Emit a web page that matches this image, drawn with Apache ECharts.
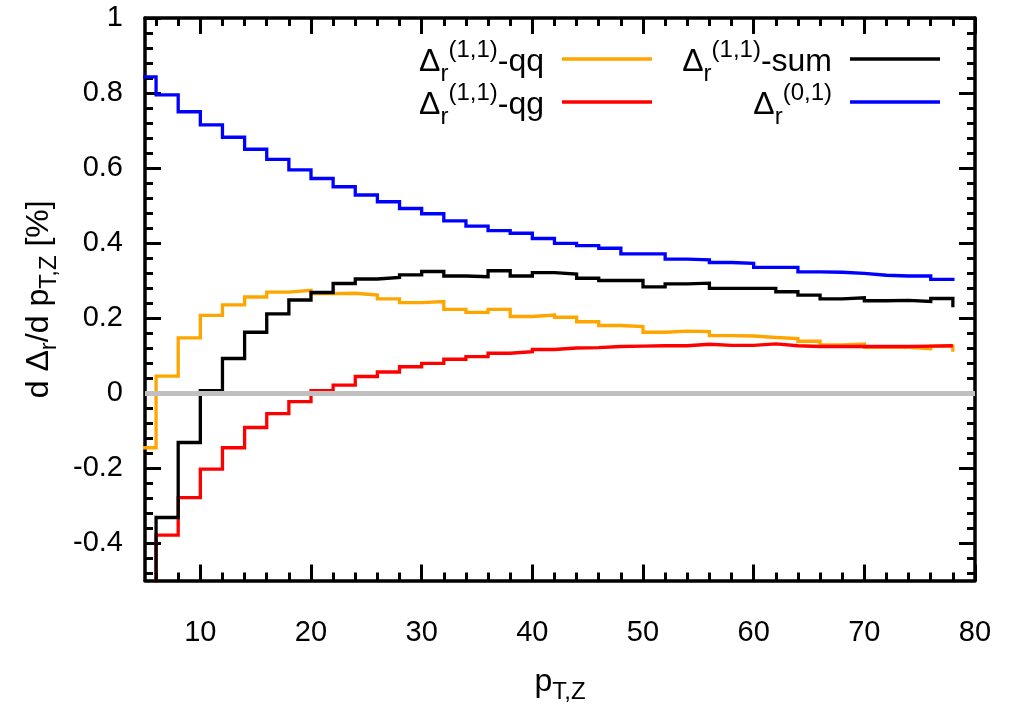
<!DOCTYPE html>
<html>
<head>
<meta charset="utf-8">
<script src="https://cdn.jsdelivr.net/npm/echarts@6/dist/echarts.min.js"></script>
<style>
  html, body { margin: 0; padding: 0; background: #fff; }
  #chart { width: 1017px; height: 721px; }
</style>
</head>
<body>
<div id="chart"></div>
<script>
// Bin edges in p_T,Z (GeV); each value below fills one bin [edge_i, edge_i+1)
const binEdges = [4, 6, 8, 10, 12, 14, 16, 18, 20, 22, 24, 26, 28, 30, 32, 34, 36, 38, 40,
  42, 44, 46, 48, 50, 52, 54, 56, 58, 60, 62, 64, 66, 68, 70, 72, 74, 76, 78];

// Δr(1,1) quark-antiquark channel
const qqValues = [-0.146, 0.045, 0.147, 0.207, 0.235, 0.256, 0.269, 0.274, 0.265, 0.266,
  0.261, 0.251, 0.241, 0.244, 0.223, 0.215, 0.223, 0.204, 0.208, 0.202, 0.190, 0.180,
  0.177, 0.162, 0.165, 0.164, 0.153, 0.152, 0.148, 0.145, 0.138, 0.128, 0.131, 0.122,
  0.122, 0.118, 0.125];
// Δr(1,1) quark-gluon channel
const qgValues = [-0.580, -0.379, -0.279, -0.203, -0.146, -0.092, -0.055, -0.023, 0.006,
  0.021, 0.044, 0.056, 0.070, 0.079, 0.090, 0.097, 0.106, 0.110, 0.116, 0.120, 0.121,
  0.124, 0.125, 0.126, 0.126, 0.130, 0.127, 0.127, 0.131, 0.126, 0.124, 0.124, 0.124,
  0.124, 0.124, 0.125, 0.126];
// Δr(1,1) sum of channels
const sumValues = [-0.730, -0.332, -0.132, 0.006, 0.092, 0.162, 0.211, 0.248, 0.268, 0.292,
  0.304, 0.308, 0.315, 0.324, 0.312, 0.310, 0.326, 0.312, 0.321, 0.317, 0.306, 0.300,
  0.300, 0.283, 0.291, 0.293, 0.279, 0.279, 0.279, 0.270, 0.261, 0.251, 0.254, 0.246,
  0.247, 0.244, 0.252];
// Δr(0,1)
const nloValues = [0.843, 0.795, 0.750, 0.715, 0.682, 0.650, 0.623, 0.595, 0.572, 0.550,
  0.528, 0.510, 0.492, 0.478, 0.459, 0.445, 0.433, 0.426, 0.412, 0.399, 0.393, 0.386,
  0.371, 0.371, 0.357, 0.355, 0.348, 0.346, 0.335, 0.335, 0.323, 0.322, 0.319, 0.314,
  0.312, 0.312, 0.303];
// value each histogram drops to at its closing edge
const endValues = { qq: 0.110, qg: 0.126, sum: 0.229, nlo: 0.299 };

// Axis ticks
const xMajorTicks = [10, 20, 30, 40, 50, 60, 70, 80];
const yMajorTicks = [-0.4, -0.2, 0, 0.2, 0.4, 0.6, 0.8, 1];
const X_MIN = 5, X_MAX = 80, Y_MIN = -0.5, Y_MAX = 1;

const xMinorTicks = [];
for (let v = 6; v < X_MAX; v += 2) if (v % 10 !== 0) xMinorTicks.push(v);
const yMinorTicks = [];
for (let k = -12; k <= 25; k++) if (k % 5 !== 0) yMinorTicks.push(+(k * 0.04).toFixed(2));

const COLORS = { qq: '#ffa500', qg: '#ff0000', sum: '#000000', nlo: '#0000ff' };
const FONT = 'Liberation Sans, Arial, Helvetica, sans-serif';
const TICK_FONT = 29, TEXT_FONT = 32, SCRIPT_FONT = 24;

function histogram(values, endValue) {
  const pts = values.map((v, i) => [binEdges[i], v]);
  const last = binEdges[binEdges.length - 1];
  pts.push([last, values[values.length - 1]]);
  pts.push([last, endValue]);
  return pts;
}

function histSeries(name, values, endValue, color) {
  return {
    name, type: 'line', step: 'end', xAxisIndex: 0, yAxisIndex: 0,
    data: histogram(values, endValue),
    showSymbol: false, symbol: 'none', clip: true,
    lineStyle: { color, width: 3.3, cap: 'butt', join: 'miter' },
    itemStyle: { color },
    animation: false, silent: true
  };
}

const GRID = { left: 145, right: 42, top: 18, bottom: 140.5 };
const tickStyle = { color: '#000', width: 3 };

function xAxisDef(grid, pos, ticks, len, labels, line) {
  return {
    type: 'value', gridIndex: grid, position: pos, min: X_MIN, max: X_MAX,
    splitLine: { show: false },
    axisLine: { show: line, onZero: false, lineStyle: { color: '#000', width: 3.5 } },
    axisTick: { show: true, inside: true, length: len, lineStyle: tickStyle, customValues: ticks },
    axisLabel: labels ? { show: true, customValues: ticks, margin: 38, color: '#000',
      fontSize: TICK_FONT, fontFamily: FONT } : { show: false },
    minorTick: { show: false }
  };
}
function yAxisDef(grid, pos, ticks, len, labels, line) {
  return {
    type: 'value', gridIndex: grid, position: pos, min: Y_MIN, max: Y_MAX,
    splitLine: { show: false },
    axisLine: { show: line, onZero: false, lineStyle: { color: '#000', width: 3.5 } },
    axisTick: { show: true, inside: true, length: len, lineStyle: tickStyle, customValues: ticks },
    axisLabel: labels ? { show: true, customValues: ticks, margin: 22, color: '#000',
      fontSize: TICK_FONT, fontFamily: FONT, formatter: v => String(+v.toFixed(2)) } : { show: false },
    minorTick: { show: false }
  };
}

// rich-text styles for Δ with sub/superscripts
const richBase = {
  m: { fontSize: TEXT_FONT, fontFamily: FONT, color: '#000', lineHeight: 48, verticalAlign: 'middle' },
  s: { fontSize: SCRIPT_FONT, fontFamily: FONT, color: '#000', lineHeight: 25, verticalAlign: 'bottom' },
  p: { fontSize: SCRIPT_FONT, fontFamily: FONT, color: '#000', lineHeight: 27, verticalAlign: 'top' }
};

const legendItems = [
  { key: 'qq', text: '{m|Δ}{s|r}{p|(1,1)}{m|-qq}', col: 0, row: 0 },
  { key: 'sum', text: '{m|Δ}{s|r}{p|(1,1)}{m|-sum}', col: 1, row: 0 },
  { key: 'qg', text: '{m|Δ}{s|r}{p|(1,1)}{m|-qg}', col: 0, row: 1 },
  { key: 'nlo', text: '{m|Δ}{s|r}{p|(0,1)}', col: 1, row: 1 }
];
const legendCols = [{ textRight: 544, lineX: 562 }, { textRight: 832, lineX: 850 }];
const legendRows = [59, 102];
const legendGraphics = [];
legendItems.forEach(it => {
  const c = legendCols[it.col], y = legendRows[it.row];
  legendGraphics.push({
    type: 'text', x: c.textRight, y: y + 3, silent: true,
    style: { text: it.text, rich: richBase, align: 'right', verticalAlign: 'middle' }
  });
  legendGraphics.push({
    type: 'line', silent: true,
    shape: { x1: c.lineX, y1: y, x2: c.lineX + 90, y2: y },
    style: { stroke: COLORS[it.key], lineWidth: 3.3 }
  });
});

const chart = echarts.init(document.getElementById('chart'), null, { renderer: 'canvas' });
chart.setOption({
  animation: false,
  backgroundColor: '#fff',
  grid: [Object.assign({}, GRID), Object.assign({}, GRID)],
  xAxis: [
    Object.assign(xAxisDef(0, 'bottom', xMajorTicks, 16, true, true), {
      name: '{m|p}{s|T,Z}', nameLocation: 'middle', nameGap: 80,
      nameTextStyle: { rich: {
        m: { fontSize: TEXT_FONT, fontFamily: FONT, color: '#000', lineHeight: 44, verticalAlign: 'middle' },
        s: { fontSize: SCRIPT_FONT, fontFamily: FONT, color: '#000', lineHeight: 24, verticalAlign: 'bottom' } } }
    }),
    xAxisDef(0, 'top', xMajorTicks, 16, false, true),
    xAxisDef(1, 'bottom', xMinorTicks, 8, false, false),
    xAxisDef(1, 'top', xMinorTicks, 8, false, false)
  ],
  yAxis: [
    Object.assign(yAxisDef(0, 'left', yMajorTicks, 16, true, true), {
      name: '{m|d Δ}{s|r}{m|/d p}{s|T,Z}{m| [%]}', nameLocation: 'middle', nameGap: 84,
      nameRotate: 90,
      nameTextStyle: { rich: {
        m: { fontSize: TEXT_FONT, fontFamily: FONT, color: '#000', lineHeight: 44, verticalAlign: 'middle' },
        s: { fontSize: SCRIPT_FONT, fontFamily: FONT, color: '#000', lineHeight: 24, verticalAlign: 'bottom' } } }
    }),
    yAxisDef(0, 'right', yMajorTicks, 16, false, true),
    yAxisDef(1, 'left', yMinorTicks, 8, false, false),
    yAxisDef(1, 'right', yMinorTicks, 8, false, false)
  ],
  series: [
    histSeries('qq', qqValues, endValues.qq, COLORS.qq),
    histSeries('qg', qgValues, endValues.qg, COLORS.qg),
    histSeries('sum', sumValues, endValues.sum, COLORS.sum),
    histSeries('nlo', nloValues, endValues.nlo, COLORS.nlo),
    {
      // zero reference line drawn over the histograms
      name: 'zero', type: 'line', xAxisIndex: 0, yAxisIndex: 0, data: [], z: 5,
      markLine: {
        silent: true, symbol: 'none', animation: false,
        label: { show: false },
        lineStyle: { color: '#c0c0c0', width: 5, type: 'solid' },
        data: [{ yAxis: 0 }]
      }
    }
  ],
  graphic: legendGraphics
});
</script>
</body>
</html>
